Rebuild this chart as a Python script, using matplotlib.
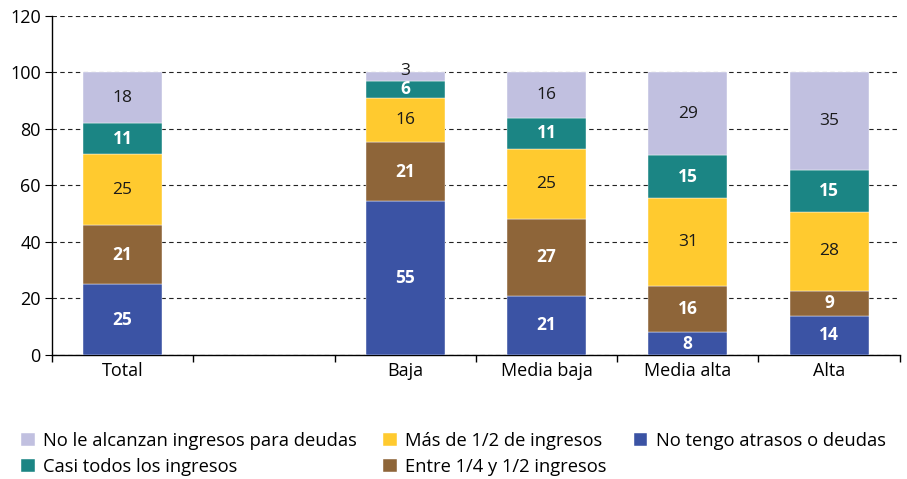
import matplotlib.pyplot as plt
import numpy as np

plt.rcParams['font.family'] = ['Open Sans', 'DejaVu Sans']

# categories (empty slot between Total and Baja)
categories = ["Total", "", "Baja", "Media baja", "Media alta", "Alta"]

# series values, bottom to top (percent, rounded)
no_tengo = [25, np.nan, 55, 21, 8, 14]
entre_14_12 = [21, np.nan, 21, 27, 16, 9]
mas_12 = [25, np.nan, 16, 25, 31, 28]
casi_todos = [11, np.nan, 6, 11, 15, 15]
no_alcanzan = [18, np.nan, 3, 16, 29, 35]

series = [
    ("No tengo atrasos o deudas", no_tengo, "#3B53A4", "white", "bold"),
    ("Entre 1/4 y 1/2 ingresos", entre_14_12, "#8E6539", "white", "bold"),
    ("Más de 1/2 de ingresos", mas_12, "#FFCA2F", "#1a1a1a", "normal"),
    ("Casi todos los ingresos", casi_todos, "#1B8584", "white", "bold"),
    ("No le alcanzan ingresos para deudas", no_alcanzan, "#C1C0E0", "#1a1a1a", "normal"),
]

fig = plt.figure(figsize=(9.07, 4.79), dpi=100)
ax = fig.add_axes([0.0573, 0.259, 0.9347, 0.7076])

x = np.arange(len(categories))
valid = ~np.isnan(np.array(no_tengo, dtype=float))
totals = np.nansum([np.array(s[1], dtype=float) for s in series], axis=0)
scale = np.where(totals > 0, 100.0 / np.where(totals > 0, totals, 1), 0)

bottom = np.zeros(len(categories))
bars = {}
for name, vals, color, tcolor, weight in series:
    raw = np.array(vals, dtype=float)
    h = np.nan_to_num(raw) * scale
    b = ax.bar(x[valid], h[valid], bottom=bottom[valid], width=0.56, color=color,
               label=name, edgecolor="white", linewidth=0.3, zorder=3)
    bars[name] = b
    for xi, val, hh, bot in zip(x[valid], raw[valid], h[valid], bottom[valid]):
        # very thin segments: label sits on the top edge, as in the original
        ypos = bot + hh + 0.5 if hh < 4 else bot + hh / 2
        ax.text(xi, ypos, f"{int(val)}", ha="center", va="center",
                color=tcolor, fontsize=12.5, fontweight=weight, zorder=4)
    bottom = bottom + h

ax.set_xlim(-0.5, len(categories) - 0.5)
ax.set_ylim(0, 120)
ax.set_yticks(range(0, 121, 20))
ax.yaxis.grid(True, linestyle=(0, (4, 3)), color="#222222", linewidth=0.8, zorder=0)
ax.set_axisbelow(True)

ax.set_xticks(x)
ax.set_xticklabels(categories)
ax.set_xticks(np.arange(-0.5, len(categories), 1), minor=True)
ax.tick_params(axis="x", which="major", length=0, labelsize=13, pad=5)
ax.tick_params(axis="x", which="minor", length=5, direction="out", width=1)
ax.tick_params(axis="y", length=5, direction="out", labelsize=13, pad=3)

for s in ["top", "right"]:
    ax.spines[s].set_visible(False)
ax.spines["left"].set_linewidth(1)
ax.spines["bottom"].set_linewidth(1)

order = ["No le alcanzan ingresos para deudas", "Casi todos los ingresos",
         "Más de 1/2 de ingresos", "Entre 1/4 y 1/2 ingresos",
         "No tengo atrasos o deudas"]
fig.legend([bars[n] for n in order], order, ncol=3, loc="lower left",
           bbox_to_anchor=(0.005, -0.028), frameon=False, fontsize=13.2,
           handlelength=0.75, handleheight=0.75, handletextpad=0.45,
           columnspacing=1.45, labelspacing=0.45)

plt.savefig("out.png", dpi=100)
